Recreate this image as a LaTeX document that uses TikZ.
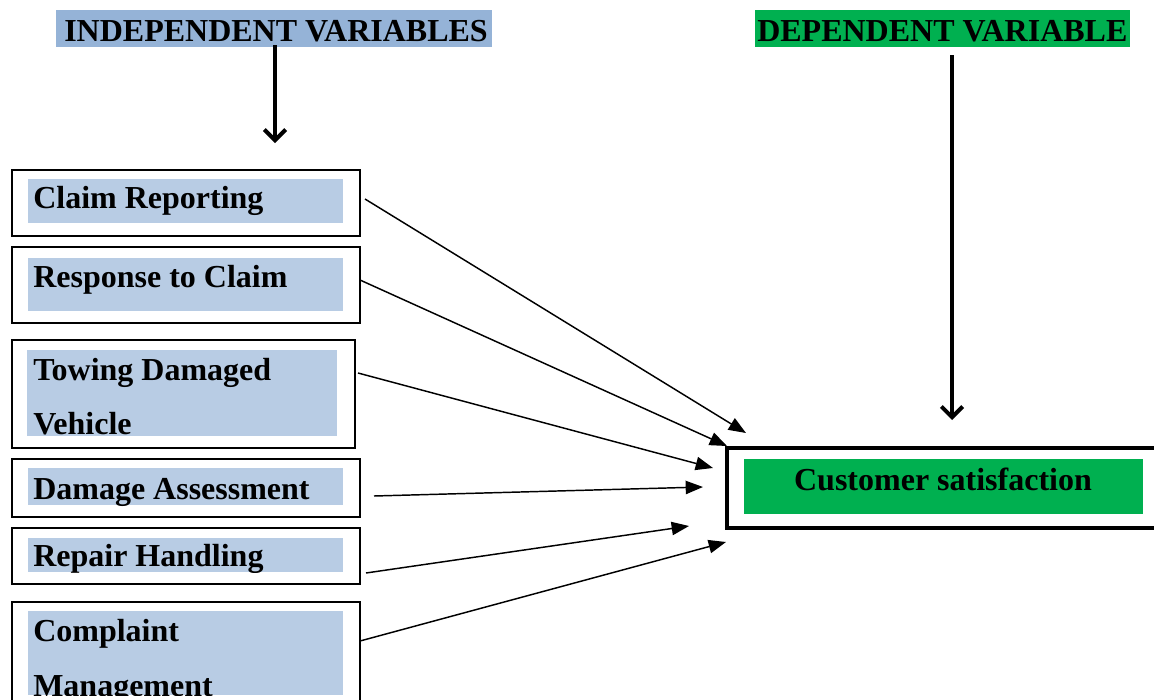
\documentclass[tikz,border=0pt]{standalone}
\usepackage{fontspec}
\setmainfont{Liberation Serif}
\usetikzlibrary{arrows.meta}
\definecolor{lblue}{HTML}{B8CCE4}
\definecolor{hblue}{HTML}{95B3D7}
\definecolor{sgreen}{HTML}{00B050}
\begin{document}
\begin{tikzpicture}[x=0.75pt,y=-0.75pt,
  font=\fontsize{24}{28}\selectfont\bfseries,
  outerbox/.style={draw, line width=1.5pt, anchor=north west, inner sep=0, minimum width=261pt},
  fillbox/.style={fill=lblue, anchor=north west, inner sep=0, minimum width=236.25pt},
  lbl/.style={anchor=base west, inner sep=0},
  conn/.style={line width=1.1pt, -{Triangle[length=13pt,width=10pt]}},
  bigarrow/.style={line width=2.4pt, -{Straight Barb[length=8pt,width=16pt,line width=3pt]}}]
\clip (0,0) rectangle (1154,700);
\fill[white] (0,0) rectangle (1154,700);

% headers
\node[fill=hblue, anchor=north west, inner sep=0, minimum width=327pt, minimum height=27.75pt] (hdi) at (56,10) {};
\node[lbl] (hdit) at (64,41) {INDEPENDENT VARIABLES};
\node[fill=sgreen, anchor=north west, inner sep=0, minimum width=281.25pt, minimum height=27.75pt] (hdd) at (755,10) {};
\node[lbl] (hddt) at (757,41) {DEPENDENT VARIABLE};

% independent boxes
\node[outerbox, minimum height=49.5pt] (b1) at (11,169) {};
\node[fillbox, minimum height=33pt] (f1) at (28,179) {};
\node[lbl] (t1) at (33,208) {Claim Reporting};

\node[outerbox, minimum height=57pt] (b2) at (11,246) {};
\node[fillbox, minimum height=39.75pt] (f2) at (28,258) {};
\node[lbl] (t2) at (33,287) {Response to Claim};

\node[outerbox, minimum width=257.25pt, minimum height=81pt] (b3) at (11,339) {};
\node[fillbox, minimum width=232.5pt, minimum height=64.5pt] (f3) at (27,350) {};
\begin{scope}
\clip (27,350) rectangle (337,436);
\node[lbl] (t3a) at (33,380) {Towing Damaged};
\node[lbl] (t3b) at (33,434) {Vehicle};
\end{scope}

\node[outerbox, minimum height=43.5pt] (b4) at (11,458) {};
\node[fillbox, minimum height=27.75pt] (f4) at (28,468) {};
\node[lbl] (t4) at (33,499) {Damage Assessment};

\node[outerbox, minimum height=42pt] (b5) at (11,527) {};
\node[fillbox, minimum height=25.5pt] (f5) at (28,538) {};
\begin{scope}
\clip (28,538) rectangle (343,572);
\node[lbl] (t5) at (33,566) {Repair Handling};
\end{scope}

\node[outerbox, minimum height=89.25pt] (b6) at (11,601) {};
\node[fillbox, minimum height=63pt] (f6) at (28,611) {};
\begin{scope}
\clip (28,611) rectangle (343,695);
\node[lbl] (t6a) at (33,641) {Complaint};
\node[lbl] (t6b) at (33,696) {Management};
\end{scope}

% dependent box
\node[draw, line width=3pt, anchor=north west, inner sep=0, minimum width=326.25pt, minimum height=60pt] (cb) at (725,446) {};
\node[fill=sgreen, anchor=north west, inner sep=0, minimum width=299.25pt, minimum height=41.25pt] (cf) at (744,459) {};
\node[anchor=base, inner sep=0] (ct) at (943,490) {Customer satisfaction};

% big arrows
\coordinate (ia0) at (275,45);
\coordinate (ia1) at (275,143);
\draw[bigarrow] (ia0) -- (ia1);
\coordinate (da0) at (952,55);
\coordinate (da1) at (952,420);
\draw[bigarrow] (da0) -- (da1);

% connectors
\coordinate (s1) at (365,199); \coordinate (e1) at (746,433);
\coordinate (s2) at (360,280); \coordinate (e2) at (727,446);
\coordinate (s3) at (358,373); \coordinate (e3) at (713,468);
\coordinate (s4) at (374,496); \coordinate (e4) at (703,487);
\coordinate (s5) at (366,573); \coordinate (e5) at (689,526);
\coordinate (s6) at (360,641); \coordinate (e6) at (726,542);
\foreach \i in {1,...,6} \draw[conn] (s\i) -- (e\i);
\end{tikzpicture}
\end{document}
